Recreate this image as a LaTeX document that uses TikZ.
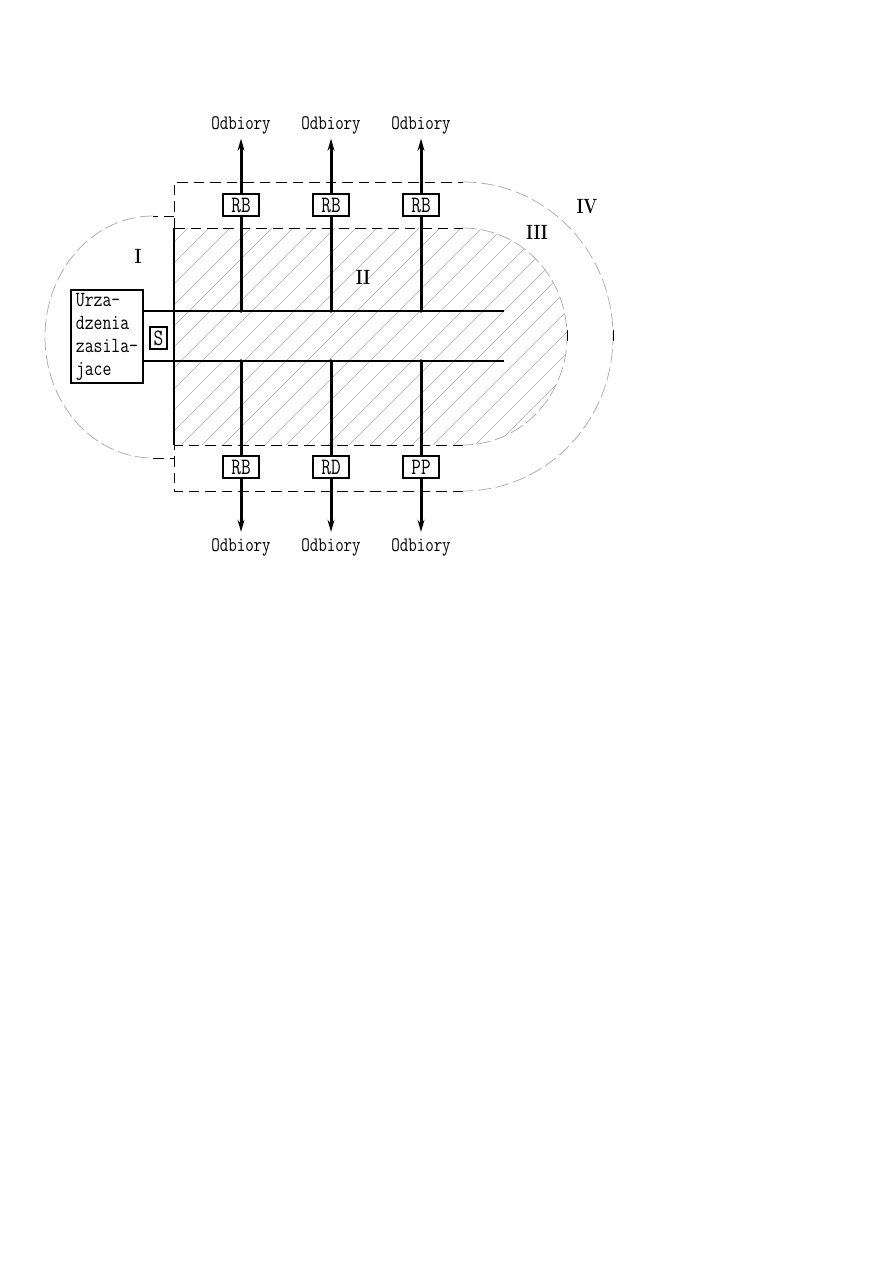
\documentclass[tikz,border=0pt]{standalone}
\usepackage{graphicx}
\usetikzlibrary{arrows.meta}
\newcommand\tw[1]{\scalebox{1}[1.25]{#1}}
\tikzset{
  feeder/.style={line width=2pt,-{Stealth[length=8pt,width=4.5pt]}},
  bus/.style={line width=1.3pt},
  zonedash/.style={line width=0.65pt,dash pattern=on 7pt off 4pt},
  zonearc/.style={gray!65,line width=0.5pt,dash pattern=on 9pt off 3pt},
  hatch/.style={gray!65,line width=0.4pt},
  devbox/.style={draw,line width=1.2pt,fill=white,inner sep=0.5pt,minimum width=24pt,minimum height=14.7pt,font=\fontsize{12.5}{14}\ttfamily},
  lbl/.style={inner sep=0pt,font=\fontsize{11}{12.3}\ttfamily},
  zlbl/.style={inner sep=0pt,font=\fontsize{11}{13}\rmfamily\bfseries}
}
\begin{document}
\begin{tikzpicture}[x=0.6667pt,y=-0.6667pt]
\useasboundingbox (0,0) rectangle (893,1263);
% hatched zone II
\begin{scope}
\clip (174,228) -- (463,228) arc[start angle=-90,end angle=90,x radius=104,y radius=108.5] -- (174,445) -- cycle;
\foreach \i in {0,...,30}
  \draw[hatch] (-50+\i*21,445) -- ++(300,-300);
\end{scope}
% zone III
\draw[zonedash] (174,228) -- (463,228);
\draw[zonearc] (463,228) arc[start angle=-90,end angle=90,x radius=104,y radius=108.5];
\draw[zonedash] (463,445) -- (174,445);
% zone IV
\draw[zonedash] (174,228) -- (174,182) -- (463,182);
\draw[zonearc] (463,182) arc[start angle=-90,end angle=90,x radius=150,y radius=154.5];
\draw[zonedash] (463,491) -- (174,491) -- (174,445);
% zone I
\draw[zonedash] (174,216) -- (153,216);
\draw[zonearc] (153,216) arc[start angle=-90,end angle=-270,x radius=108,y radius=121];
\draw[zonedash] (153,458) -- (174,458);
\draw[line width=1.3pt] (174,228) -- (174,445);
\draw[line width=0.6pt] (567,330) -- (567,341);
\draw[line width=0.6pt] (613,330) -- (613,341);
% supply and busbars
\node[draw,line width=1.2pt,fill=white,minimum width=48pt,minimum height=62pt,inner sep=0pt,lbl,font=\fontsize{11.5}{12.3}\ttfamily] (zas) at (107,336.5)
  {\tw{\begin{tabular}{@{}l@{}}Urza-\\dzenia\\zasila-\\jace\end{tabular}}};
\node[devbox,minimum width=11.3pt] (s) at (158.5,338) {\tw{S}};
\coordinate (bA) at (504,311);
\coordinate (bB) at (504,361);
\draw[bus] (zas.east |- bA) -- (bA);
\draw[bus] (zas.east |- bB) -- (bB);
% feeders
\foreach \x/\n/\up/\dn in {241/1/RB/RB,331/2/RB/RD,421/3/RB/PP}{
  \coordinate (jt\n) at (\x,311);
  \coordinate (jb\n) at (\x,361);
  \node[lbl] (ot\n) at (\x,125) {\tw{Odbiory}};
  \node[lbl] (ob\n) at (\x,547) {\tw{Odbiory}};
  \draw[feeder,shorten >=3pt] (jt\n) -- (ot\n.south);
  \draw[feeder,shorten >=4pt] (jb\n) -- (ob\n.north);
  \fill (jt\n) circle (1.8);
  \fill (jb\n) circle (1.8);
  \node[devbox] (rt\n) at (\x,205) {\tw{\up}};
  \node[devbox] (rb\n) at (\x,467) {\tw{\dn}};
}
% zone labels
\node[zlbl] (z1) at (138,256) {\tw{I}};
\node[zlbl] (z2) at (363,277) {\tw{II}};
\node[zlbl] (z3) at (537,232) {\tw{III}};
\node[zlbl] (z4) at (587,207) {\tw{IV}};
\end{tikzpicture}
\end{document}
